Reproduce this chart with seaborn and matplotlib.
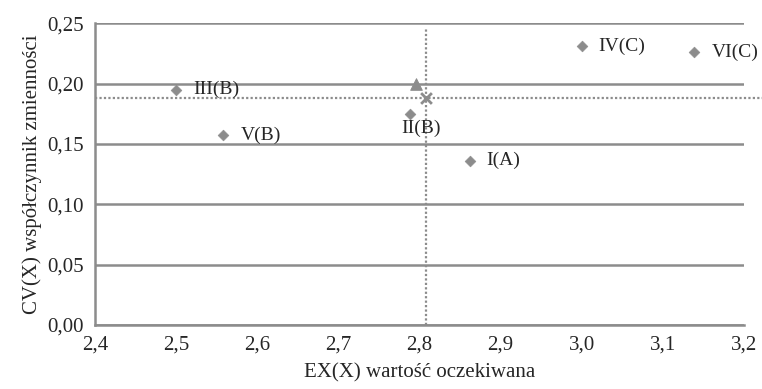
import pandas as pd
import seaborn as sns
import matplotlib.pyplot as plt

labels = ["I(A)", "II(B)", "III(B)", "IV(C)", "V(B)", "VI(C)"]
ex = [2.862, 2.788, 2.50, 3.00, 2.558, 3.139]
cv = [0.136, 0.175, 0.195, 0.231, 0.157, 0.226]

# punkty dodatkowe: trojkat i srednia (gwiazdka)
tri_x, tri_y = [2.796], [0.200]
mean_x, mean_y = [2.808], [0.188]

grey = "#8c8c8c"
fs = 15

sns.set_style("white")
plt.rcParams["font.family"] = ["Liberation Serif", "DejaVu Serif"]

df = pd.DataFrame({"EX": ex, "CV": cv, "label": labels})

fig, ax = plt.subplots(figsize=(7.62, 3.89), dpi=100)
sns.scatterplot(data=df, x="EX", y="CV", marker="D", s=30, color=grey, edgecolor=grey, ax=ax, zorder=3)
sns.scatterplot(x=tri_x, y=tri_y, marker="^", s=70, color=grey, edgecolor=grey, ax=ax, zorder=3)
sns.scatterplot(x=mean_x, y=mean_y, marker="x", s=60, color=grey, linewidth=2, ax=ax, zorder=3)

for _, r in df.iterrows():
    if r["label"] == "II(B)":
        ax.text(r["EX"] - 0.01, r["CV"] - 0.012, r["label"], ha="left", va="center", fontsize=14)
    else:
        ax.text(r["EX"] + 0.021, r["CV"], r["label"], ha="left", va="center", fontsize=14)

ax.axhline(mean_y[0], xmin=0, xmax=1.03, color=grey, ls=(0, (1, 1)), lw=1.6, clip_on=False, zorder=2)
ax.axvline(mean_x[0], ymin=0, ymax=0.985, color=grey, ls=(0, (1, 1)), lw=1.6, zorder=2)

ax.set_xlim(2.4, 3.2)
ax.set_ylim(0, 0.25)
ax.set_xticks([2.4 + 0.1 * i for i in range(9)])
ax.set_yticks([0.05 * i for i in range(6)])
ax.set_xticklabels([f"{2.4 + 0.1 * i:.1f}".replace(".", ",") for i in range(9)], fontsize=fs)
ax.set_yticklabels([f"{0.05 * i:.2f}".replace(".", ",") for i in range(6)], fontsize=fs)
ax.yaxis.grid(True, color="#8c8c8c", lw=1.8)
ax.set_axisbelow(True)
for s in ["top", "right"]:
    ax.spines[s].set_visible(False)
for s in ["left", "bottom"]:
    ax.spines[s].set_color("#8c8c8c")
    ax.spines[s].set_linewidth(1.8)
ax.tick_params(axis="both", which="both", direction="out", length=5, width=1.5, color="#8c8c8c", pad=3)
ax.set_xlabel("EX(X) wartość oczekiwana", fontsize=fs, labelpad=6)
ax.set_ylabel("CV(X) współczynnik zmienności", fontsize=fs, labelpad=4)

plt.subplots_adjust(left=0.125, right=0.976, top=0.94, bottom=0.165)
plt.savefig("out.png", dpi=100)
